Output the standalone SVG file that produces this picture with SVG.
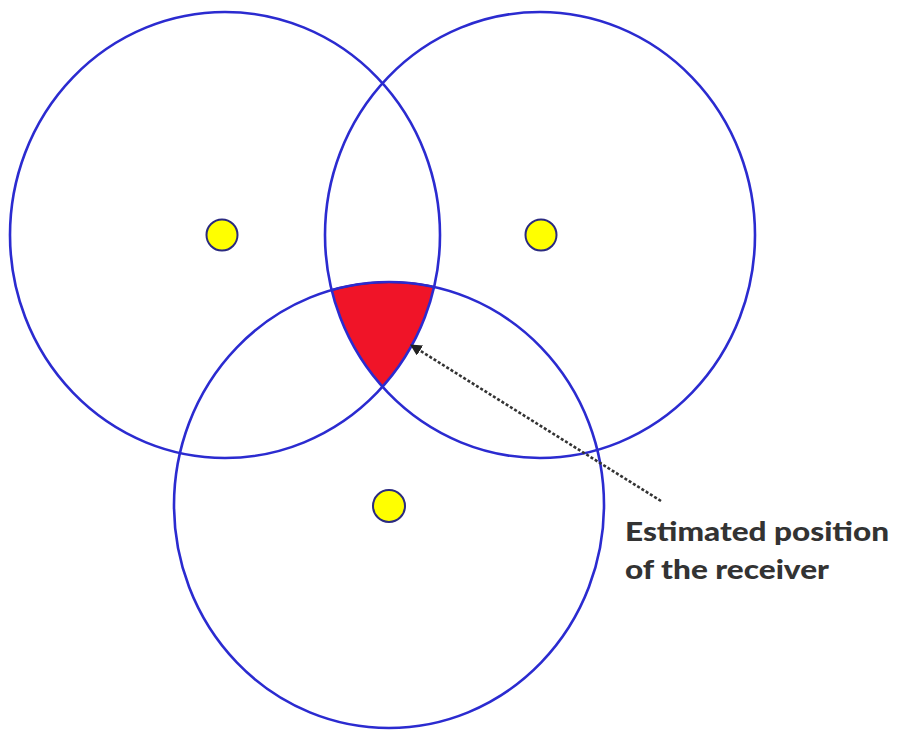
<svg xmlns="http://www.w3.org/2000/svg" width="898" height="731" viewBox="0 0 898 731">
  <style>
    .ring { fill: none; stroke: #2b2bd0; stroke-width: 2.6; }
    .dot { fill: #ffff00; stroke: #2a2a80; stroke-width: 2; }
    .label { font-family: Lato, "Open Sans", "Liberation Sans", sans-serif; font-weight: 900; font-size: 26px; fill: #333333; }
    .pointer { stroke: #333333; stroke-width: 2.6; stroke-dasharray: 3 2; fill: none; }
  </style>
  <defs>
    <clipPath id="clipLeft"><ellipse cx="225" cy="235" rx="215" ry="223"/></clipPath>
    <clipPath id="clipRight"><ellipse cx="540" cy="235" rx="215" ry="223"/></clipPath>
    <marker id="arrow" viewBox="0 0 10 10" refX="9" refY="5" markerWidth="4.5" markerHeight="4.5" orient="auto-start-reverse" markerUnits="strokeWidth">
      <path d="M0,0 L10,5 L0,10 z" fill="#222222"/>
    </marker>
  </defs>
  <rect width="898" height="731" fill="#ffffff"/>
  <g id="estimate-region" clip-path="url(#clipLeft)">
    <g clip-path="url(#clipRight)">
      <ellipse cx="389" cy="505" rx="215" ry="223" fill="#f01428" stroke="#5a1040" stroke-width="2"/>
    </g>
  </g>
  <g id="circle-left">
    <ellipse class="ring" cx="225" cy="235" rx="215" ry="223"/>
    <circle class="dot" cx="222" cy="235" r="15.5"/>
  </g>
  <g id="circle-right">
    <ellipse class="ring" cx="540" cy="235" rx="215" ry="223"/>
    <circle class="dot" cx="541" cy="235" r="15.5"/>
  </g>
  <g id="circle-bottom">
    <ellipse class="ring" cx="389" cy="505" rx="215" ry="223"/>
    <circle class="dot" cx="389" cy="506" r="16"/>
  </g>
  <g id="connectors">
    <line class="pointer" x1="661" y1="501" x2="411" y2="345" marker-end="url(#arrow)"/>
  </g>
  <g id="label">
    <text class="label" x="625" y="541" textLength="264" lengthAdjust="spacingAndGlyphs">Estimated position</text>
    <text class="label" x="625" y="579" textLength="204" lengthAdjust="spacingAndGlyphs">of the receiver</text>
  </g>
</svg>
